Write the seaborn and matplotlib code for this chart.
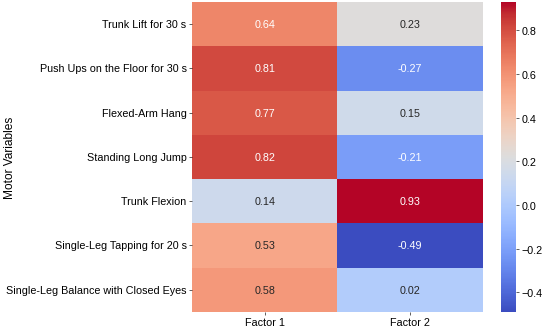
import pandas as pd
import matplotlib
matplotlib.use("Agg")
import matplotlib.pyplot as plt
import seaborn as sns

variables = ["Trunk Lift for 30 s", "Push Ups on the Floor for 30 s", "Flexed-Arm Hang",
             "Standing Long Jump", "Trunk Flexion", "Single-Leg Tapping for 20 s",
             "Single-Leg Balance with Closed Eyes"]
factor1 = [0.64, 0.81, 0.77, 0.82, 0.14, 0.53, 0.58]
factor2 = [0.23, -0.27, 0.15, -0.21, 0.93, -0.49, 0.02]

df = pd.DataFrame({"Factor 1": factor1, "Factor 2": factor2}, index=variables)

plt.rcParams['font.family'] = ['Liberation Sans', 'DejaVu Sans']

fig = plt.figure(figsize=(10, 5.98), dpi=55)
ax = fig.add_axes([0.349, 0.049, 0.529, 0.942])
cax = fig.add_axes([0.911, 0.049, 0.027, 0.942])
sns.heatmap(df, annot=True, fmt=".2f", cmap="coolwarm", ax=ax, cbar_ax=cax,
            annot_kws={"size": 14})
ax.set_ylabel("Motor Variables", fontsize=15.5)
ax.yaxis.set_label_coords(-0.605, 0.5)
ax.tick_params(axis='y', rotation=0, labelsize=14)
ax.tick_params(axis='x', labelsize=14)
cax.tick_params(labelsize=14)
fig.savefig("out.png", dpi=55)
